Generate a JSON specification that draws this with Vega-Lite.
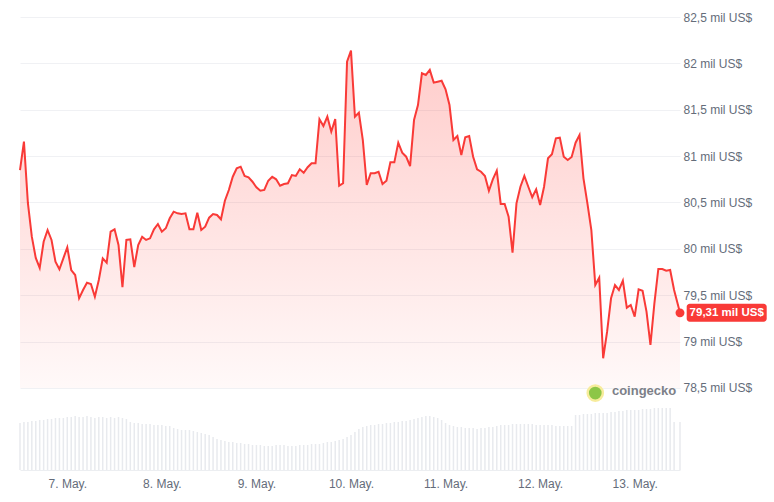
{
  "$schema": "https://vega.github.io/schema/vega-lite/v6.json",
  "width": 660,
  "height": 453,
  "autosize": {"type": "none"},
  "padding": {"left": 20, "top": 17, "right": 94, "bottom": 32},
  "background": "white",
  "config": {"view": {"stroke": null}, "font": "Liberation Sans", "axis": {"labelFont": "Liberation Sans"}},
  "data": {"values": [
    {"t":"2026-05-06T12:00","p":80850,"v":37.6},{"t":"2026-05-06T13:00","p":81156,"v":38.4},{"t":"2026-05-06T14:00","p":80495,"v":38.4},{"t":"2026-05-06T15:00","p":80131,"v":39.2},
    {"t":"2026-05-06T16:00","p":79902,"v":39.2},{"t":"2026-05-06T17:00","p":79794,"v":40},{"t":"2026-05-06T18:00","p":80077,"v":40},{"t":"2026-05-06T19:00","p":80203,"v":40.8},
    {"t":"2026-05-06T20:00","p":80096,"v":40.8},{"t":"2026-05-06T21:00","p":79862,"v":41.6},{"t":"2026-05-06T22:00","p":79780,"v":41.6},{"t":"2026-05-06T23:00","p":79898,"v":41.6},
    {"t":"2026-05-07T00:00","p":80017,"v":42.4},{"t":"2026-05-07T01:00","p":79772,"v":42.4},{"t":"2026-05-07T02:00","p":79718,"v":43.2},{"t":"2026-05-07T03:00","p":79467,"v":42.4},
    {"t":"2026-05-07T04:00","p":79557,"v":42.4},{"t":"2026-05-07T05:00","p":79635,"v":43.2},{"t":"2026-05-07T06:00","p":79621,"v":42.4},{"t":"2026-05-07T07:00","p":79484,"v":41.6},
    {"t":"2026-05-07T08:00","p":79664,"v":42.4},{"t":"2026-05-07T09:00","p":79898,"v":42.4},{"t":"2026-05-07T10:00","p":79851,"v":41.6},{"t":"2026-05-07T11:00","p":80185,"v":42.4},
    {"t":"2026-05-07T12:00","p":80211,"v":41.6},{"t":"2026-05-07T13:00","p":80042,"v":42.4},{"t":"2026-05-07T14:00","p":79586,"v":41.6},{"t":"2026-05-07T15:00","p":80096,"v":40.8},
    {"t":"2026-05-07T16:00","p":80103,"v":38.4},{"t":"2026-05-07T17:00","p":79804,"v":37.6},{"t":"2026-05-07T18:00","p":80042,"v":37.6},{"t":"2026-05-07T19:00","p":80131,"v":36.8},
    {"t":"2026-05-07T20:00","p":80096,"v":36.8},{"t":"2026-05-07T21:00","p":80114,"v":36.8},{"t":"2026-05-07T22:00","p":80211,"v":36},{"t":"2026-05-07T23:00","p":80268,"v":36},
    {"t":"2026-05-08T00:00","p":80185,"v":36},{"t":"2026-05-08T01:00","p":80222,"v":35.2},{"t":"2026-05-08T02:00","p":80330,"v":35.2},{"t":"2026-05-08T03:00","p":80401,"v":33.6},
    {"t":"2026-05-08T04:00","p":80383,"v":32.8},{"t":"2026-05-08T05:00","p":80376,"v":32},{"t":"2026-05-08T06:00","p":80383,"v":32},{"t":"2026-05-08T07:00","p":80211,"v":32},
    {"t":"2026-05-08T08:00","p":80211,"v":31.2},{"t":"2026-05-08T09:00","p":80390,"v":30.4},{"t":"2026-05-08T10:00","p":80203,"v":29.6},{"t":"2026-05-08T11:00","p":80239,"v":28.8},
    {"t":"2026-05-08T12:00","p":80336,"v":28},{"t":"2026-05-08T13:00","p":80376,"v":26.4},{"t":"2026-05-08T14:00","p":80365,"v":24.8},{"t":"2026-05-08T15:00","p":80319,"v":24},
    {"t":"2026-05-08T16:00","p":80519,"v":23.2},{"t":"2026-05-08T17:00","p":80635,"v":22.4},{"t":"2026-05-08T18:00","p":80778,"v":22.4},{"t":"2026-05-08T19:00","p":80869,"v":21.6},
    {"t":"2026-05-08T20:00","p":80886,"v":21.6},{"t":"2026-05-08T21:00","p":80786,"v":20.8},{"t":"2026-05-08T22:00","p":80772,"v":20.8},{"t":"2026-05-08T23:00","p":80724,"v":20},
    {"t":"2026-05-09T00:00","p":80664,"v":20},{"t":"2026-05-09T01:00","p":80627,"v":20},{"t":"2026-05-09T02:00","p":80635,"v":19.2},{"t":"2026-05-09T03:00","p":80735,"v":19.2},
    {"t":"2026-05-09T04:00","p":80778,"v":19.2},{"t":"2026-05-09T05:00","p":80750,"v":20},{"t":"2026-05-09T06:00","p":80681,"v":20},{"t":"2026-05-09T07:00","p":80699,"v":20},
    {"t":"2026-05-09T08:00","p":80707,"v":19.2},{"t":"2026-05-09T09:00","p":80796,"v":19.2},{"t":"2026-05-09T10:00","p":80786,"v":19.2},{"t":"2026-05-09T11:00","p":80858,"v":20},
    {"t":"2026-05-09T12:00","p":80821,"v":20},{"t":"2026-05-09T13:00","p":80880,"v":20},{"t":"2026-05-09T14:00","p":80923,"v":20.8},{"t":"2026-05-09T15:00","p":80923,"v":20.8},
    {"t":"2026-05-09T16:00","p":81397,"v":20.8},{"t":"2026-05-09T17:00","p":81325,"v":21.6},{"t":"2026-05-09T18:00","p":81425,"v":22.4},{"t":"2026-05-09T19:00","p":81263,"v":22.4},
    {"t":"2026-05-09T20:00","p":81400,"v":23.2},{"t":"2026-05-09T21:00","p":80681,"v":24},{"t":"2026-05-09T22:00","p":80707,"v":24.8},{"t":"2026-05-09T23:00","p":82018,"v":26.4},
    {"t":"2026-05-10T00:00","p":82137,"v":28},{"t":"2026-05-10T01:00","p":81425,"v":30.4},{"t":"2026-05-10T02:00","p":81468,"v":32.8},{"t":"2026-05-10T03:00","p":81174,"v":34.4},
    {"t":"2026-05-10T04:00","p":80689,"v":35.2},{"t":"2026-05-10T05:00","p":80815,"v":36},{"t":"2026-05-10T06:00","p":80815,"v":36},{"t":"2026-05-10T07:00","p":80832,"v":36.8},
    {"t":"2026-05-10T08:00","p":80699,"v":36.8},{"t":"2026-05-10T09:00","p":80735,"v":37.6},{"t":"2026-05-10T10:00","p":80933,"v":37.6},{"t":"2026-05-10T11:00","p":80933,"v":38.4},
    {"t":"2026-05-10T12:00","p":81145,"v":38.4},{"t":"2026-05-10T13:00","p":81037,"v":39.2},{"t":"2026-05-10T14:00","p":80994,"v":39.2},{"t":"2026-05-10T15:00","p":80893,"v":40},
    {"t":"2026-05-10T16:00","p":81389,"v":40.8},{"t":"2026-05-10T17:00","p":81551,"v":41.6},{"t":"2026-05-10T18:00","p":81893,"v":42.4},{"t":"2026-05-10T19:00","p":81875,"v":43.2},
    {"t":"2026-05-10T20:00","p":81929,"v":43.2},{"t":"2026-05-10T21:00","p":81792,"v":42.4},{"t":"2026-05-10T22:00","p":81802,"v":41.6},{"t":"2026-05-10T23:00","p":81813,"v":40},
    {"t":"2026-05-11T00:00","p":81720,"v":37.6},{"t":"2026-05-11T01:00","p":81551,"v":36},{"t":"2026-05-11T02:00","p":81174,"v":35.2},{"t":"2026-05-11T03:00","p":81217,"v":34.4},
    {"t":"2026-05-11T04:00","p":81012,"v":34.4},{"t":"2026-05-11T05:00","p":81203,"v":33.6},{"t":"2026-05-11T06:00","p":81217,"v":33.6},{"t":"2026-05-11T07:00","p":80994,"v":33.6},
    {"t":"2026-05-11T08:00","p":80858,"v":32.8},{"t":"2026-05-11T09:00","p":80832,"v":33.6},{"t":"2026-05-11T10:00","p":80786,"v":33.6},{"t":"2026-05-11T11:00","p":80627,"v":34.4},
    {"t":"2026-05-11T12:00","p":80750,"v":34.4},{"t":"2026-05-11T13:00","p":80843,"v":35.2},{"t":"2026-05-11T14:00","p":80484,"v":36},{"t":"2026-05-11T15:00","p":80484,"v":36},
    {"t":"2026-05-11T16:00","p":80347,"v":36},{"t":"2026-05-11T17:00","p":79959,"v":36.8},{"t":"2026-05-11T18:00","p":80491,"v":36.8},{"t":"2026-05-11T19:00","p":80670,"v":36.8},
    {"t":"2026-05-11T20:00","p":80786,"v":36.8},{"t":"2026-05-11T21:00","p":80670,"v":36.8},{"t":"2026-05-11T22:00","p":80556,"v":36.8},{"t":"2026-05-11T23:00","p":80642,"v":36},
    {"t":"2026-05-12T00:00","p":80473,"v":36},{"t":"2026-05-12T01:00","p":80670,"v":36},{"t":"2026-05-12T02:00","p":80977,"v":36},{"t":"2026-05-12T03:00","p":81020,"v":36},
    {"t":"2026-05-12T04:00","p":81192,"v":35.2},{"t":"2026-05-12T05:00","p":81199,"v":35.2},{"t":"2026-05-12T06:00","p":80994,"v":35.2},{"t":"2026-05-12T07:00","p":80958,"v":35.2},
    {"t":"2026-05-12T08:00","p":80991,"v":35.2},{"t":"2026-05-12T09:00","p":81145,"v":44},{"t":"2026-05-12T10:00","p":81228,"v":44},{"t":"2026-05-12T11:00","p":80761,"v":44.8},
    {"t":"2026-05-12T12:00","p":80491,"v":44.8},{"t":"2026-05-12T13:00","p":80203,"v":44.8},{"t":"2026-05-12T14:00","p":79610,"v":45.6},{"t":"2026-05-12T15:00","p":79689,"v":45.6},
    {"t":"2026-05-12T16:00","p":78820,"v":45.6},{"t":"2026-05-12T17:00","p":79107,"v":45.6},{"t":"2026-05-12T18:00","p":79467,"v":46.4},{"t":"2026-05-12T19:00","p":79610,"v":46.4},
    {"t":"2026-05-12T20:00","p":79557,"v":47.2},{"t":"2026-05-12T21:00","p":79657,"v":47.2},{"t":"2026-05-12T22:00","p":79366,"v":48},{"t":"2026-05-12T23:00","p":79395,"v":48},
    {"t":"2026-05-13T00:00","p":79269,"v":48},{"t":"2026-05-13T01:00","p":79564,"v":48},{"t":"2026-05-13T02:00","p":79549,"v":48.8},{"t":"2026-05-13T03:00","p":79323,"v":48.8},
    {"t":"2026-05-13T04:00","p":78964,"v":48.8},{"t":"2026-05-13T05:00","p":79413,"v":49.6},{"t":"2026-05-13T06:00","p":79783,"v":49.6},{"t":"2026-05-13T07:00","p":79783,"v":49.6},
    {"t":"2026-05-13T08:00","p":79765,"v":49.6},{"t":"2026-05-13T09:00","p":79772,"v":49.6},{"t":"2026-05-13T10:00","p":79557,"v":38.4},{"t":"2026-05-13T11:30","p":79310,"v":38.4}
  ]},
  "layer": [
    {
      "mark": {"type": "bar", "width": 1.5, "color": "#e8eaee"},
      "encoding": {
        "x": {"field": "t", "type": "temporal",
              "scale": {"domain": [{"year":2026,"month":5,"date":6,"hours":12},{"year":2026,"month":5,"date":13,"hours":11,"minutes":30}], "nice": false, "padding": 0},
              "axis": {"format": "%-d. %b.", "tickCount": {"interval": "day", "step": 1}, "labelColor": "#646c7a", "labelFontSize": 12,
                       "ticks": false, "domain": true, "domainColor": "#eceef1", "grid": false, "labelPadding": 8, "title": null, "labelFlush": false}},
        "y": {"field": "v", "type": "quantitative", "scale": {"domain": [0, 362.4], "nice": false, "zero": true}, "axis": null}
      }
    },
    {
      "encoding": {
        "x": {"field": "t", "type": "temporal",
              "scale": {"domain": [{"year":2026,"month":5,"date":6,"hours":12},{"year":2026,"month":5,"date":13,"hours":11,"minutes":30}], "nice": false, "padding": 0},
              "axis": {"format": "%-d. %b.", "tickCount": {"interval": "day", "step": 1}, "labelColor": "#646c7a", "labelFontSize": 12,
                       "ticks": false, "domain": true, "domainColor": "#eceef1", "grid": false, "labelPadding": 8, "title": null, "labelFlush": false}},
        "y": {"field": "p", "type": "quantitative", "scale": {"domain": [77615.8, 82500], "nice": false, "zero": false},
              "axis": {"orient": "right", "values": [78500, 79000, 79500, 80000, 80500, 81000, 81500, 82000, 82500],
                       "labelExpr": "replace(format(datum.value/1000, '.1~f'), '.', ',') + ' mil US$'",
                       "grid": true, "gridColor": "#f0f1f4", "domain": false, "ticks": false, "labelPadding": 3,
                       "labelColor": "#646c7a", "labelFontSize": 12, "title": null, "labelFlush": false}}
      },
      "layer": [
        {
          "mark": {"type": "area", "interpolate": "linear",
                   "color": {"gradient": "linear", "x1": 0, "y1": 0, "x2": 0, "y2": 1,
                             "stops": [{"offset": 0, "color": "rgba(255,58,51,0.26)"}, {"offset": 1, "color": "rgba(255,58,51,0.03)"}]}},
          "encoding": {"y2": {"datum": 78500}}
        },
        {
          "mark": {"type": "line", "color": "#f93a37", "strokeWidth": 2, "interpolate": "linear"},
          "encoding": {}
        },
        {
          "transform": [
            {"filter": {"field": "t", "equal": {"year":2026,"month":5,"date":13,"hours":11,"minutes":30}}},
            {"calculate": "replace(format(datum.p/1000, '.2f'), '.', ',') + ' mil US$'", "as": "label"}
          ],
          "layer": [
            {"mark": {"type": "point", "filled": true, "size": 80, "color": "#f93a37", "opacity": 1}},
            {"mark": {"type": "point", "filled": true, "size": 6400, "color": "#f93a37", "opacity": 1, "xOffset": 46.7,
                      "shape": "M-0.925,-0.225 H0.925 A0.075,0.075 0 0 1 1,-0.15 V0.15 A0.075,0.075 0 0 1 0.925,0.225 H-0.925 A0.075,0.075 0 0 1 -1,0.15 V-0.15 A0.075,0.075 0 0 1 -0.925,-0.225 Z"}},
            {"mark": {"type": "text", "dx": 46.7, "align": "center", "baseline": "middle", "fontSize": 11.5, "fontWeight": "bold", "color": "white"},
             "encoding": {"text": {"field": "label"}}}
          ]
        },
        {
          "transform": [{"filter": {"field": "t", "equal": {"year":2026,"month":5,"date":12,"hours":14}}}],
          "mark": {"type": "point", "filled": true, "size": 230, "color": "#8dc647", "stroke": "#f7ec9c", "strokeWidth": 2.5, "opacity": 1},
          "encoding": {"y": {"datum": 78445, "type": "quantitative"}}
        },
        {
          "transform": [{"filter": {"field": "t", "equal": {"year":2026,"month":5,"date":13,"hours":2}}}],
          "mark": {"type": "text", "align": "center", "baseline": "middle", "fontSize": 13, "fontWeight": "bold", "color": "#7d8088", "dx": 1.5},
          "encoding": {"y": {"datum": 78467, "type": "quantitative"}, "text": {"value": "coingecko"}}
        }
      ]
    }
  ],
  "resolve": {"scale": {"y": "independent"}}
}
